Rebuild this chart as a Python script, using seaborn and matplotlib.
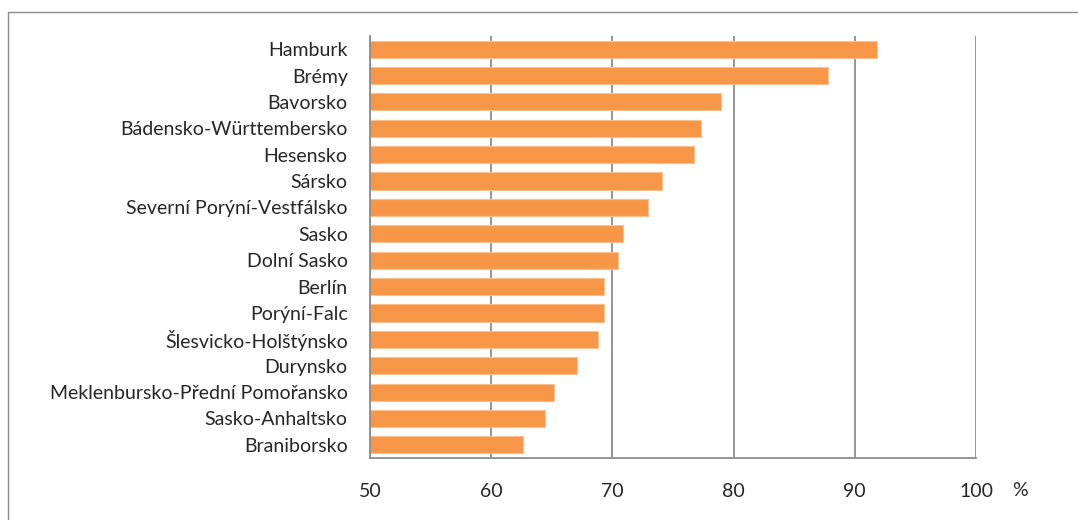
import matplotlib
matplotlib.use("Agg")
import matplotlib.pyplot as plt
import seaborn as sns
import pandas as pd
from matplotlib.lines import Line2D

# data (share in %)
regions = [
    "Hamburk", "Brémy", "Bavorsko", "Bádensko-Württembersko", "Hesensko",
    "Sársko", "Severní Porýní-Vestfálsko", "Sasko", "Dolní Sasko", "Berlín",
    "Porýní-Falc", "Šlesvicko-Holštýnsko", "Durynsko",
    "Meklenbursko-Přední Pomořansko", "Sasko-Anhaltsko", "Braniborsko",
]
values = [91.8, 87.8, 79.0, 77.3, 76.7, 74.1, 72.9, 70.9, 70.45, 69.3,
          69.3, 68.85, 67.1, 65.2, 64.4, 62.6]
x_ticks = [50, 60, 70, 80, 90, 100]

df = pd.DataFrame({"region": regions, "value": values})

sns.set_style("white")
plt.rcParams["font.family"] = ["Lato", "DejaVu Sans"]
fs = 14

fig = plt.figure(figsize=(10.78, 5.2), dpi=100)
ax = fig.add_axes([0.3432, 0.1192, 0.5622, 0.8116])

sns.barplot(data=df, x="value", y="region", color="#F79646", saturation=1,
            width=0.65, edgecolor="#FAC090", linewidth=0.8, ax=ax)

ax.set_xlim(50, 100)
ax.set_ylim(len(regions) - 0.5, -0.5)
ax.set_xticks(x_ticks)
ax.set_xticklabels([str(t) for t in x_ticks], fontsize=fs)
ax.grid(axis="x", color="#8C8C8C", linewidth=1.3)
ax.set_axisbelow(True)
ax.set_xlabel("")
ax.set_ylabel("")

for s in ["top", "right"]:
    ax.spines[s].set_visible(False)
for s in ["left", "bottom"]:
    ax.spines[s].set_color("#8C8C8C")
    ax.spines[s].set_linewidth(1.3)

# y ticks: labels at centres, tick marks at category borders
ax.tick_params(axis="y", which="major", length=0, pad=16, labelsize=fs)
ax.set_yticks([i - 0.5 for i in range(len(regions) + 1)], minor=True)
ax.tick_params(axis="y", which="minor", length=5, width=1.3, color="#8C8C8C")
ax.tick_params(axis="x", which="major", length=6, width=1.3, color="#8C8C8C",
               direction="out", pad=12)

fig.text(1020 / 1078, 1 - 490 / 520, "%", fontsize=fs, ha="center", va="center")

# outer chart border (left and top visible in reference)
fig.add_artist(Line2D([8 / 1078, 8 / 1078], [0, 1 - 12 / 520],
                      transform=fig.transFigure, color="#8C8C8C", linewidth=1))
fig.add_artist(Line2D([8 / 1078, 1], [1 - 12 / 520, 1 - 12 / 520],
                      transform=fig.transFigure, color="#8C8C8C", linewidth=1))

fig.savefig("out.png", dpi=100)
